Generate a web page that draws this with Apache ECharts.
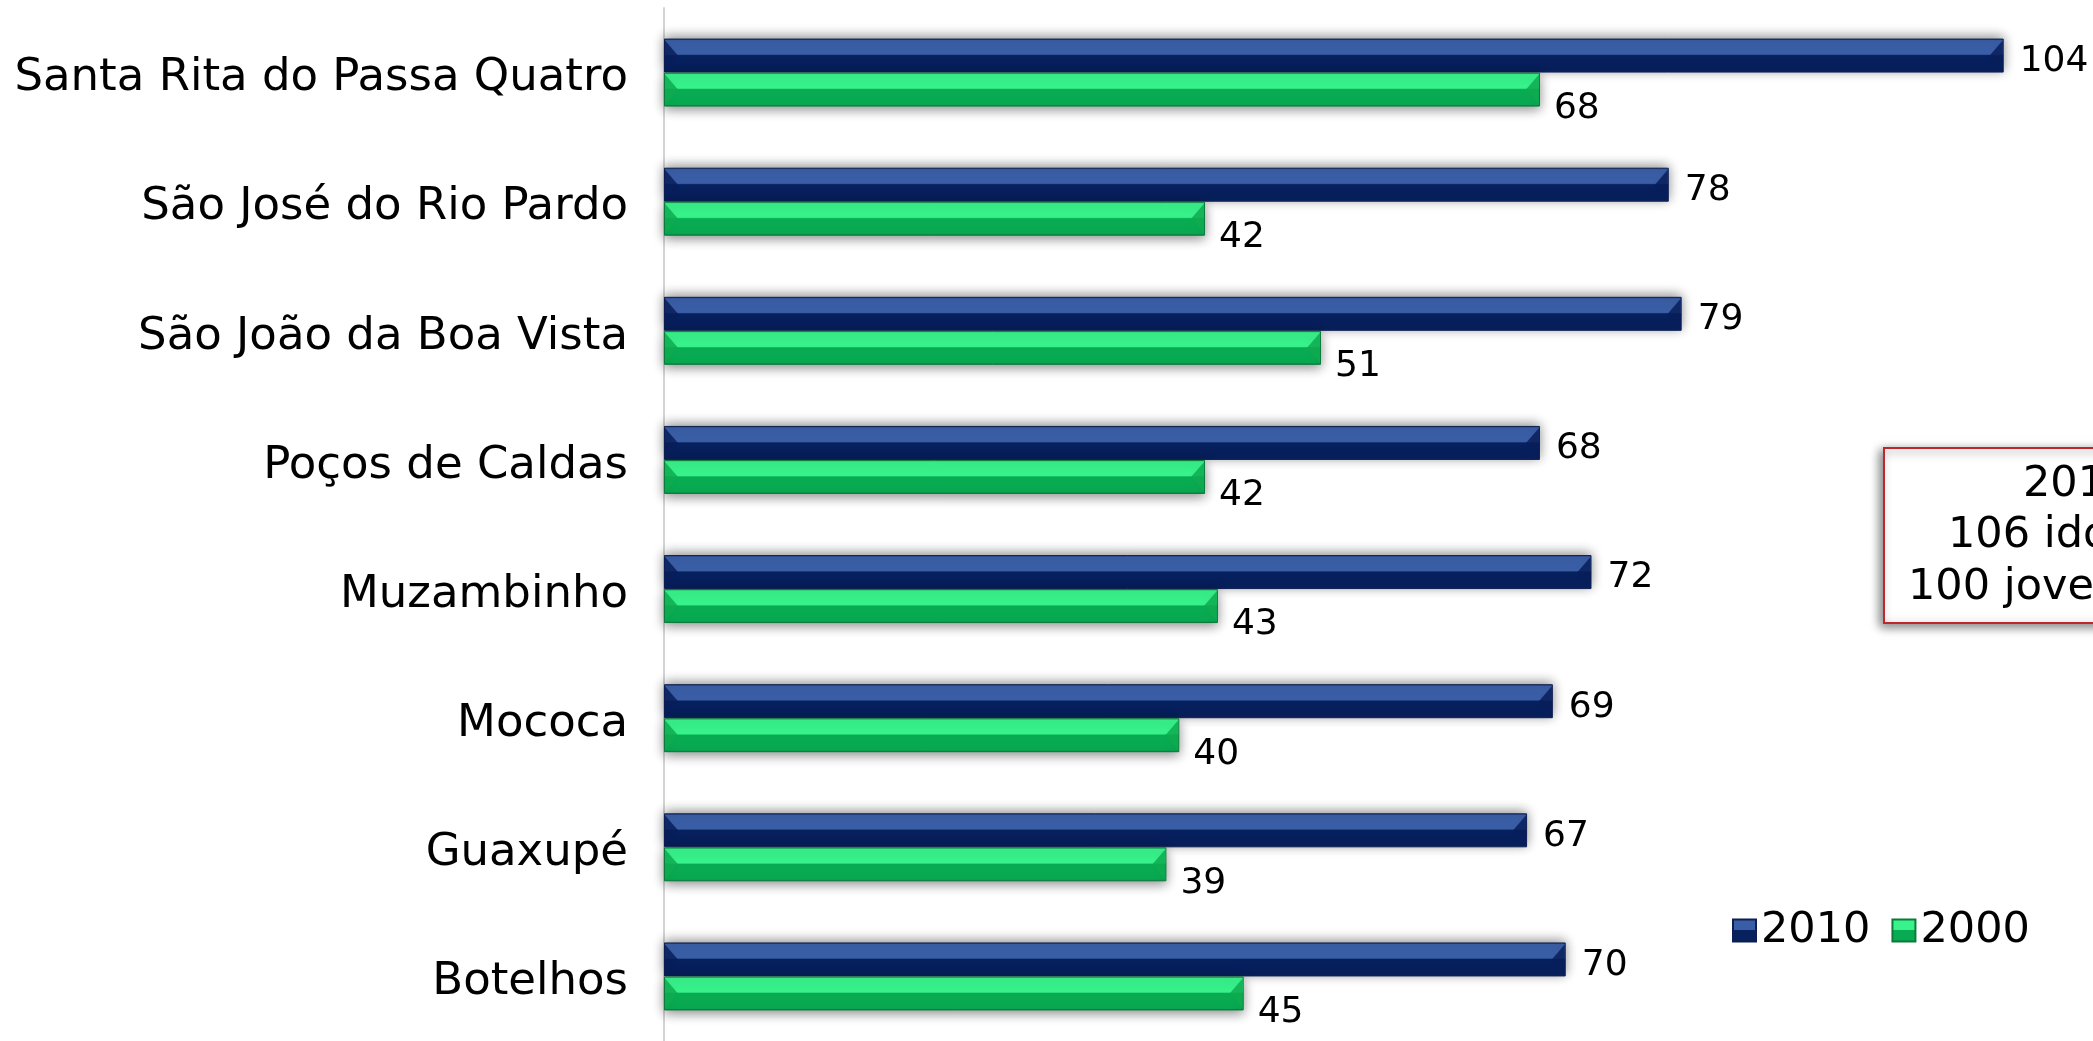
<!DOCTYPE html>
<html>
<head>
<meta charset="utf-8">
<script src="https://cdn.jsdelivr.net/npm/echarts@6/dist/echarts.min.js"></script>
<style>
  html,body{margin:0;padding:0;background:#fff;}
  #main{width:2093px;height:1041px;}
</style>
</head>
<body>
<div id="main"></div>
<script>
// dados
var cidades = ['Santa Rita do Passa Quatro', 'São José do Rio Pardo', 'São João da Boa Vista',
  'Poços de Caldas', 'Muzambinho', 'Mococa', 'Guaxupé', 'Botelhos'];
var anos = ['2010', '2000'];
var valores2010 = [104, 78, 79, 68, 72, 69, 67, 70];
var valores2000 = [68, 42, 51, 42, 43, 40, 39, 45];
var caixaTexto = ['2010', '106 idosos', '100 jovens'];

var fonte = 'DejaVu Sans';
var larguraBarra = 34;

function bevel(c1, c2, c3, c4) {
  return new echarts.graphic.LinearGradient(0, 0, 0, 1, [
    {offset: 0, color: c1},
    {offset: 0.06, color: c2},
    {offset: 0.46, color: c2},
    {offset: 0.5, color: c3},
    {offset: 0.94, color: c3},
    {offset: 1, color: c4}
  ]);
}
var azul = bevel('#1d3576', '#3a5ea6', '#07205e', '#142a5c');
var verde = bevel('#1fa85a', '#38f38b', '#09ab52', '#0c7a3c');

// pontas chanfradas das barras (triangulos nas extremidades)
function pontas(valores, desloc, corFace) {
  return {
    type: 'custom', name: 'pontas' + desloc, silent: true, z: 3,
    data: valores.map(function (v, i) { return [v, i]; }),
    encode: {x: 0, y: 1},
    renderItem: function (params, api) {
      var ini = api.coord([0, api.value(1)]);
      var fim = api.coord([api.value(0), api.value(1)]);
      var y0 = ini[1] + desloc;
      var y1 = y0 + larguraBarra;
      var ym = (y0 + y1) / 2;
      var x0 = ini[0] + 1, x1 = fim[0] - 1;
      return {
        type: 'group',
        children: [
          {type: 'polygon', shape: {points: [[x0, y0 + 2], [x0 + 13, ym], [x0, y1 - 2]]},
            style: {fill: corFace}},
          {type: 'polygon', shape: {points: [[x1, y0 + 2], [x1 - 13, ym], [x1, y1 - 2]]},
            style: {fill: corFace}}
        ]
      };
    }
  };
}

var myChart = echarts.init(document.getElementById('main'));
var option = {
  animation: false,
  grid: {left: 664, right: 12, top: 8, height: 1039},
  legend: {
    left: 1727, top: 904,
    itemWidth: 23, itemHeight: 22, itemGap: 21,
    icon: 'rect',
    textStyle: {fontFamily: fonte, fontSize: 43, color: '#000'},
    data: anos
  },
  xAxis: {
    type: 'value', min: 0, max: 110, show: false
  },
  yAxis: {
    type: 'category', inverse: true, data: cidades,
    axisLine: {show: true, lineStyle: {color: '#d4d4d4', width: 2}},
    axisTick: {show: false},
    axisLabel: {fontFamily: fonte, fontSize: 45, color: '#000', margin: 36,
      verticalAlign: 'top', lineHeight: 12}
  },
  series: [
    {
      name: anos[0], type: 'bar', data: valores2010,
      barWidth: larguraBarra, barGap: '0%',
      itemStyle: {color: azul, borderColor: '#0d1f52', borderWidth: 1,
        shadowBlur: 12, shadowColor: 'rgba(0,0,0,0.45)', shadowOffsetY: -2},
      label: {show: true, position: 'right', distance: 16, offset: [0, 6],
        fontFamily: fonte, fontSize: 36, color: '#000'}
    },
    {
      name: anos[1], type: 'bar', data: valores2000,
      barWidth: larguraBarra,
      itemStyle: {color: verde, borderColor: '#0b7a3b', borderWidth: 1,
        shadowBlur: 12, shadowColor: 'rgba(0,0,0,0.45)', shadowOffsetY: 3},
      label: {show: true, position: 'right', distance: 14, offset: [0, 19],
        fontFamily: fonte, fontSize: 36, color: '#000'}
    },
    pontas(valores2010, -larguraBarra, 'rgba(8,30,90,0.85)'),
    pontas(valores2000, 0, 'rgba(14,170,80,0.85)')
  ],
  graphic: [
    {
      type: 'rect', left: 1883, top: 447, z: 10,
      shape: {width: 380, height: 175},
      style: {fill: '#fff', stroke: '#c0262c', lineWidth: 2,
        shadowBlur: 10, shadowColor: 'rgba(0,0,0,0.5)', shadowOffsetX: -3, shadowOffsetY: 3}
    },
    {type: 'text', x: 2023, y: 485, z: 11,
      style: {text: caixaTexto[0], fontFamily: fonte, fontSize: 43, fill: '#000', align: 'left', verticalAlign: 'middle'}},
    {type: 'text', x: 1948, y: 536, z: 11,
      style: {text: caixaTexto[1], fontFamily: fonte, fontSize: 43, fill: '#000', align: 'left', verticalAlign: 'middle'}},
    {type: 'text', x: 1908, y: 588, z: 11,
      style: {text: caixaTexto[2], fontFamily: fonte, fontSize: 43, fill: '#000', align: 'left', verticalAlign: 'middle'}}
  ]
};
myChart.setOption(option);
</script>
</body>
</html>
